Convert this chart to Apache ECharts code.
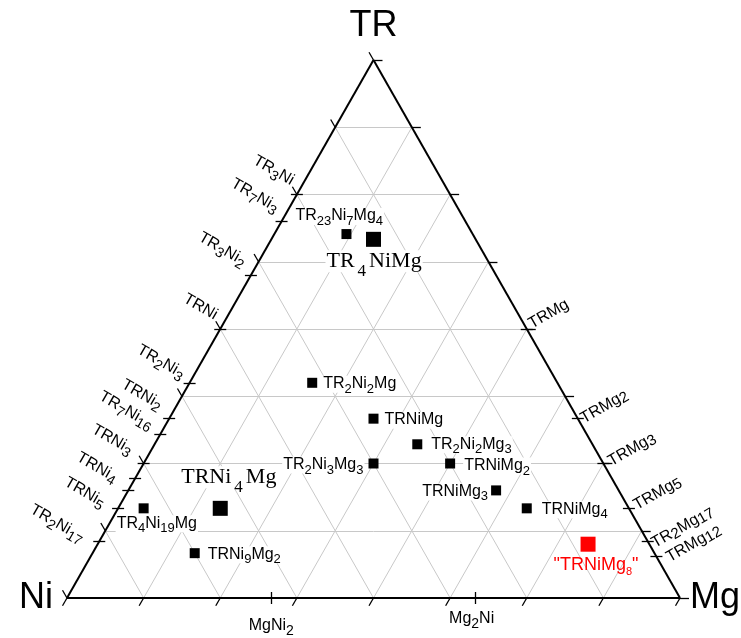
<!DOCTYPE html>
<html>
<head>
<meta charset="utf-8">
<script src="https://cdn.jsdelivr.net/npm/echarts@6/dist/echarts.min.js"></script>
<style>
  html, body { margin: 0; padding: 0; background: #fff; }
  #chart { width: 741px; height: 638px; }
</style>
</head>
<body>
<div id="chart"></div>
<script>
// corners: top, left, right
const corners = ['TR', 'Ni', 'Mg'];
const divisions = 8;

// ternary phases, atoms [TR, Ni, Mg]
const phaseNames = ['TR23Ni7Mg4', 'TR2Ni2Mg', 'TRNiMg', 'TR2Ni2Mg3', 'TR2Ni3Mg3', 'TRNiMg2', 'TRNiMg3', 'TRNiMg4', 'TR4Ni19Mg', 'TRNi9Mg2'];
const phaseAtoms = [[23, 7, 4], [2, 2, 1], [1, 1, 1], [2, 2, 3], [2, 3, 3], [1, 1, 2], [1, 1, 3], [1, 1, 4], [4, 19, 1], [1, 9, 2]];
const majorNames = ['TR4NiMg', 'TRNi4Mg'];
const majorAtoms = [[4, 1, 1], [1, 4, 1]];
const newNames = ['"TRNiMg8"'];
const newAtoms = [[1, 1, 8]];

// binary compounds on the edges
const trNiNames = ['TR3Ni', 'TR7Ni3', 'TR3Ni2', 'TRNi', 'TR2Ni3', 'TRNi2', 'TR7Ni16', 'TRNi3', '', 'TRNi4', 'TRNi5', 'TR2Ni17'];
const trNiAtoms = [[3, 1], [7, 3], [3, 2], [1, 1], [2, 3], [1, 2], [7, 16], [1, 3], [2, 7], [1, 4], [1, 5], [2, 17]]; // TR, Ni
const trMgNames = ['TRMg', 'TRMg2', 'TRMg3', 'TRMg5', 'TR2Mg17', 'TRMg12'];
const trMgAtoms = [[1, 1], [1, 2], [1, 3], [1, 5], [2, 17], [1, 12]]; // TR, Mg
const niMgNames = ['MgNi2', 'Mg2Ni'];
const niMgAtoms = [[2, 1], [1, 2]]; // Ni, Mg

// ---- layout / styles ----
const W = 613, H = 538; // plot area in px
const px = (dx, dy) => [dx / W, -dy / H];
const add = (p, d) => [p[0] + d[0], p[1] + d[1]];
function pt(tr, ni, mg) {
  const s = tr + ni + mg;
  return [(mg + tr / 2) / s, tr / s];
}
function sub(name) {
  return name.split(/(\d+)/).filter(Boolean)
    .map(t => /^\d+$/.test(t) ? '{s|' + t + '}' : '{n|' + t + '}').join('');
}

// label placement [align, dx, dy] from marker centre
const phasePlace = {
  'TR23Ni7Mg4': ['left', -52, -26],
  'TR2Ni2Mg': ['left', 10, -7],
  'TRNiMg': ['left', 10, -7],
  'TR2Ni2Mg3': ['left', 13, -8],
  'TR2Ni3Mg3': ['right', -9, -7],
  'TRNiMg2': ['left', 13, -6],
  'TRNiMg3': ['right', -7, -7],
  'TRNiMg4': ['left', 14, -7],
  'TR4Ni19Mg': ['left', -28, 7],
  'TRNi9Mg2': ['left', 12, -7],
  'TR4NiMg': ['left', -48, 11],
  'TRNi4Mg': ['left', -40, -42],
  '"TRNiMg8"': ['center', 8, 12]
};
// rotated edge labels: anchor offset [dx, dy] from the tick
const edgePlace = {
  'TR3Ni': [0, -20], 'TR7Ni3': [0, -20], 'TR3Ni2': [-2, -20], 'TRNi': [0, -20],
  'TR2Ni3': [-2, -15], 'TRNi2': [-4, -20], 'TR7Ni16': [-4, -16], 'TRNi3': [-8, -20],
  'TRNi4': [-8, -19], 'TRNi5': [-10, -12], 'TR2Ni17': [-12, -10],
  'TRMg': [-1, -11], 'TRMg2': [0, -6], 'TRMg3': [2, -8], 'TRMg5': [2, -9],
  'TR2Mg17': [1, -4], 'TRMg12': [7, -5],
  'MgNi2': [0, 20], 'Mg2Ni': [-4, 13]
};

const sans = 'Liberation Sans, Arial, sans-serif';
const serif = 'Liberation Serif, Times New Roman, serif';
const ink = '#000';
const richSans = {
  n: { fontFamily: sans, fontSize: 16, color: ink, verticalAlign: 'top', lineHeight: 17 },
  s: { fontFamily: sans, fontSize: 13, color: ink, verticalAlign: 'top', lineHeight: 14, padding: [7, 0, 0, 0] }
};
const richSerif = {
  n: { fontFamily: serif, fontSize: 22, color: ink, verticalAlign: 'top', lineHeight: 22 },
  s: { fontFamily: serif, fontSize: 17, color: ink, verticalAlign: 'top', lineHeight: 17, padding: [13, 3, 0, 3] }
};
const richRed = {
  n: { fontFamily: sans, fontSize: 18, color: '#f00', verticalAlign: 'top', lineHeight: 19 },
  s: { fontFamily: sans, fontSize: 11, color: '#f00', verticalAlign: 'top', lineHeight: 12, padding: [10, 0, 0, 0] }
};
const richEdge = {
  n: { fontFamily: sans, fontSize: 16, color: ink, verticalAlign: 'top', lineHeight: 17 },
  s: { fontFamily: sans, fontSize: 14, color: ink, verticalAlign: 'top', lineHeight: 15, padding: [6, 0, 0, 0] }
};
const richEdgeR = {
  n: richEdge.n,
  s: { fontFamily: sans, fontSize: 15, color: ink, verticalAlign: 'top', lineHeight: 16, padding: [3, 0, 0, 0] }
};

// grid lines and ticks
const gridSegs = [], tickSegs = [];
for (let k = 1; k < divisions; k++) {
  const f = k / divisions, g = 1 - f;
  gridSegs.push([pt(f, g, 0), pt(f, 0, g)]);
  gridSegs.push([pt(0, g, f), pt(g, 0, f)]);
  gridSegs.push([pt(0, f, g), pt(g, f, 0)]);
}
const L = 9;
for (let k = 0; k <= divisions; k++) {
  const f = k / divisions;
  const b = pt(0, 1 - f, f); tickSegs.push([b, add(b, px(-0.5 * L, 0.866 * L))]);
  const r = pt(f, 0, 1 - f); tickSegs.push([r, add(r, px(L, 0))]);
  const l = pt(f, 1 - f, 0); tickSegs.push([l, add(l, px(-0.5 * L, -0.866 * L))]);
}
trNiAtoms.forEach(a => { const p = pt(a[0], a[1], 0); tickSegs.push([add(p, px(-6, 0)), add(p, px(6, 0))]); });
trMgAtoms.forEach(a => { const p = pt(a[0], 0, a[1]); tickSegs.push([add(p, px(-6, 0)), add(p, px(6, 0))]); });
niMgAtoms.forEach(a => { const p = pt(0, a[0], a[1]); tickSegs.push([add(p, px(0, -6)), add(p, px(0, 6))]); });
const frame = [[pt(1, 0, 0), pt(0, 1, 0)], [pt(0, 1, 0), pt(0, 0, 1)], [pt(0, 0, 1), pt(1, 0, 0)]];

function phaseData(names, atoms) {
  return names.map((n, i) => {
    const a = atoms[i], p = phasePlace[n];
    return { name: n, value: pt(a[0], a[1], a[2]), label: { align: p[0], offset: [p[1], p[2]] } };
  });
}
function edgeData(names, values, rot, align) {
  return names.map((n, i) => {
    const o = edgePlace[n] || [0, 0];
    return { name: n, value: values[i], label: { show: !!n, position: o, rotate: rot, align: align } };
  });
}
const phaseLabel = (rich, bg) => ({
  show: true, position: 'inside', verticalAlign: 'top', color: ink,
  backgroundColor: bg, padding: [0, 1],
  formatter: d => sub(d.name), rich: rich
});
const edgeLabel = rich => ({
  show: true, verticalAlign: 'top', color: ink, formatter: d => sub(d.name), rich: rich
});

const chart = echarts.init(document.getElementById('chart'));
chart.setOption({
  animation: false,
  grid: { left: 67, right: 61, top: 60, bottom: 40 },
  xAxis: { type: 'value', min: 0, max: 1, show: false },
  yAxis: { type: 'value', min: 0, max: 1, show: false },
  series: [
    { type: 'lines', coordinateSystem: 'cartesian2d', clip: false, silent: true, z: 1,
      lineStyle: { color: '#c8c8c8', width: 1, opacity: 1 },
      data: gridSegs.map(c => ({ coords: c })) },
    { type: 'lines', coordinateSystem: 'cartesian2d', clip: false, silent: true, z: 2,
      lineStyle: { color: '#000', width: 1.3, opacity: 1 },
      data: tickSegs.map(c => ({ coords: c })) },
    { type: 'lines', coordinateSystem: 'cartesian2d', clip: false, silent: true, z: 3,
      lineStyle: { color: '#000', width: 2, opacity: 1 },
      data: frame.map(c => ({ coords: c })) },
    { type: 'scatter', symbol: 'rect', symbolSize: 10, clip: false, z: 5,
      itemStyle: { color: '#000', opacity: 1 },
      label: phaseLabel(richSans, '#fff'),
      data: phaseData(phaseNames, phaseAtoms) },
    { type: 'scatter', symbol: 'rect', symbolSize: 15, clip: false, z: 5,
      itemStyle: { color: '#000', opacity: 1 },
      label: phaseLabel(richSerif, '#fff'),
      data: phaseData(majorNames, majorAtoms) },
    { type: 'scatter', symbol: 'rect', symbolSize: 15, clip: false, z: 5,
      itemStyle: { color: '#f00', opacity: 1 },
      label: phaseLabel(richRed, 'transparent'),
      data: phaseData(newNames, newAtoms) },
    { type: 'scatter', symbolSize: 0, clip: false, z: 6, itemStyle: { opacity: 1 },
      label: edgeLabel(richEdge),
      data: edgeData(trNiNames, trNiAtoms.map(a => pt(a[0], a[1], 0)), -30, 'right') },
    { type: 'scatter', symbolSize: 0, clip: false, z: 6, itemStyle: { opacity: 1 },
      label: edgeLabel(richEdgeR),
      data: edgeData(trMgNames, trMgAtoms.map(a => pt(a[0], 0, a[1])), 30, 'left') },
    { type: 'scatter', symbolSize: 0, clip: false, z: 6, itemStyle: { opacity: 1 },
      label: edgeLabel(richEdge),
      data: edgeData(niMgNames, niMgAtoms.map(a => pt(0, a[0], a[1])), 0, 'center') },
    { type: 'scatter', symbolSize: 0, clip: false, z: 6, itemStyle: { opacity: 1 },
      label: { show: true, color: ink, fontFamily: sans, fontSize: 36, formatter: '{b}' },
      data: [
        { name: corners[0], value: pt(1, 0, 0), label: { position: 'top', distance: 16 } },
        { name: corners[1], value: pt(0, 1, 0), label: { position: 'left', distance: 14 } },
        { name: corners[2], value: pt(0, 0, 1), label: { position: 'right', distance: 10 } }
      ] }
  ]
});
</script>
</body>
</html>
